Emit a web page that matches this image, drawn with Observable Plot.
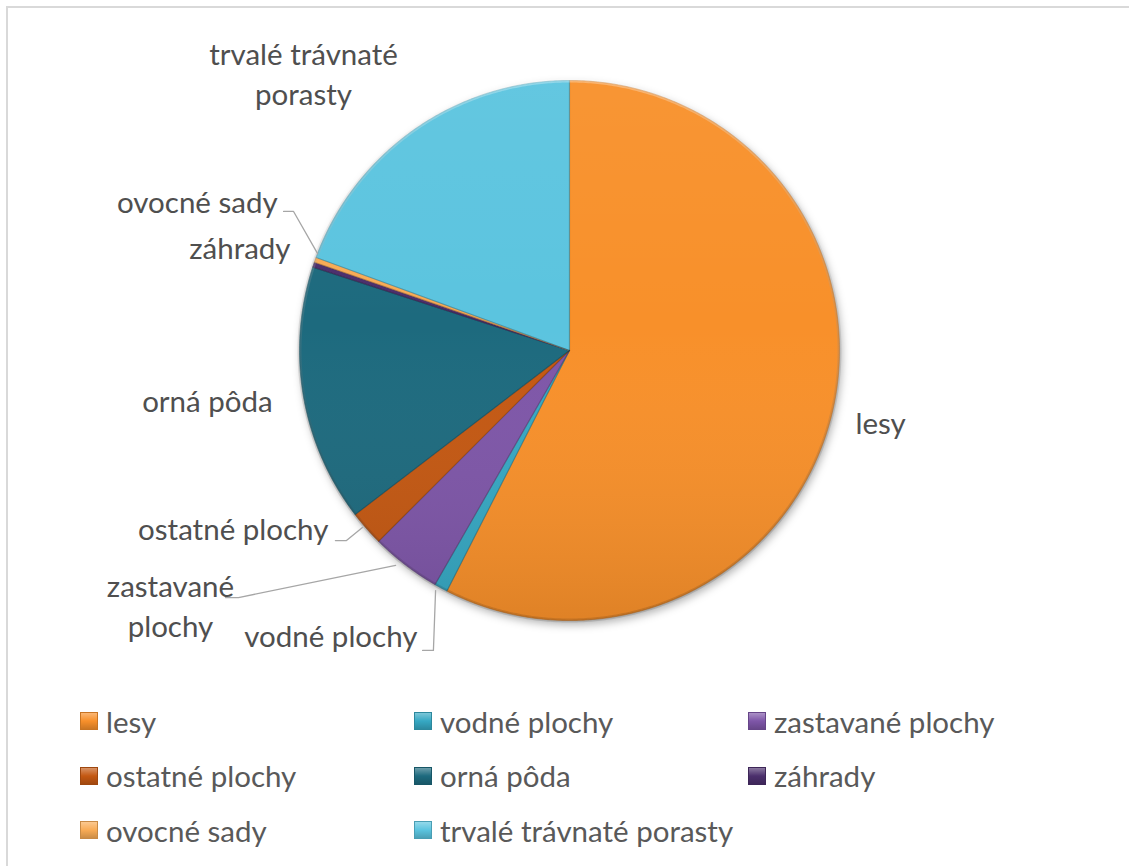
<!DOCTYPE html>
<html>
<head>
<meta charset="utf-8">
<script src="https://cdn.jsdelivr.net/npm/d3@7"></script>
<script src="https://cdn.jsdelivr.net/npm/@observablehq/plot@0.6"></script>
<style>
  html, body { margin: 0; padding: 0; background: #fff; }
  #wrap { position: relative; width: 1129px; height: 866px; overflow: hidden; font-family: Lato, "Open Sans", sans-serif; }
  #frame { position: absolute; left: 6px; top: 6px; width: 1140px; height: 880px; border: 2px solid #d9d9d9; box-sizing: border-box; pointer-events: none; }
  #chart { position: absolute; left: 0; top: 0; }
  #legend { position: absolute; left: 80px; top: 694px; display: grid; grid-template-columns: 334px 334px 334px; grid-auto-rows: 54.5px; }
  .item { display: flex; align-items: center; font-size: 29.5px; color: #595959; white-space: nowrap; }
  .sw { width: 18px; height: 18px; margin-right: 8px; box-sizing: border-box; position: relative; }
  .sw::after { content: ""; position: absolute; inset: 0; background: linear-gradient(to bottom, rgba(255,255,255,0.35), rgba(255,255,255,0) 50%, rgba(0,0,0,0.18)); }
</style>
</head>
<body>
<div id="wrap">
  <div id="chart"></div>
  <div id="legend"></div>
  <div id="frame"></div>
</div>
<script>
// ---- data ----
const categories = ["lesy", "vodné plochy", "zastavané plochy", "ostatné plochy", "orná pôda", "záhrady", "ovocné sady", "trvalé trávnaté porasty"];
const shares = [57.5, 0.8, 4.2, 2.1, 15.4, 0.3, 0.3, 19.4];
const colors = ["#F8902A", "#36A8C3", "#7E56A8", "#C45812", "#1D6A7E", "#4B2F6C", "#F8AB55", "#5BC4DF"];

// ---- label layout (unit = pie radius, y up) ----
const labelLayout = {
  "lesy": {lines: [[1.152, -0.274]], anchor: "middle"},
  "vodné plochy": {lines: [[-0.563, -1.063]], anchor: "end", leader: [[-0.496, -0.889], [-0.504, -1.111], [-0.544, -1.111]]},
  "zastavané plochy": {text: ["zastavané", "plochy"], lines: [[-1.478, -0.878], [-1.478, -1.026]], anchor: "middle", leader: [[-1.274, -0.915], [-1.226, -0.915], [-0.644, -0.796]]},
  "ostatné plochy": {lines: [[-0.893, -0.667]], anchor: "end", leader: [[-0.867, -0.704], [-0.826, -0.704], [-0.767, -0.656]]},
  "orná pôda": {lines: [[-1.341, -0.193]], anchor: "middle"},
  "záhrady": {lines: [[-1.033, 0.374]], anchor: "end"},
  "ovocné sady": {lines: [[-1.081, 0.544]], anchor: "end", leader: [[-1.059, 0.515], [-1.022, 0.515], [-0.933, 0.359]]},
  "trvalé trávnaté porasty": {text: ["trvalé trávnaté", "porasty"], lines: [[-0.985, 1.093], [-0.985, 0.944]], anchor: "middle"}
};

// ---- build geometry ----
const pie = d3.pie().sort(null).value(d => d.v)(categories.map((c, i) => ({c, v: shares[i]})));
const slicePts = [];
for (const a of pie) {
  const c = a.data.c;
  slicePts.push({c, x: 0, y: 0});
  const n = Math.max(2, Math.ceil((a.endAngle - a.startAngle) / (Math.PI / 360)));
  for (let k = 0; k <= n; k++) {
    const t = a.startAngle + (a.endAngle - a.startAngle) * k / n;
    slicePts.push({c, x: Math.sin(t), y: Math.cos(t)});
  }
  slicePts.push({c, x: 0, y: 0});
}
const circlePts = d3.range(0, 721).map(k => ({x: Math.sin(k * Math.PI / 360), y: Math.cos(k * Math.PI / 360)}));

const labelRows = [];
const leaderPts = [];
for (const c of categories) {
  const L = labelLayout[c];
  const texts = L.text || [c];
  texts.forEach((t, i) => labelRows.push({t, x: L.lines[i][0], y: L.lines[i][1], anchor: L.anchor}));
  if (L.leader) L.leader.forEach(p => leaderPts.push({c, x: p[0], y: p[1]}));
}

const W = 1129, H = 680;
const plot = Plot.plot({
  width: W, height: H,
  marginLeft: 299, marginRight: 290, marginTop: 80, marginBottom: 60,
  x: {domain: [-1, 1], axis: null},
  y: {domain: [-1, 1], axis: null},
  color: {domain: categories, range: colors, type: "ordinal"},
  style: {fontFamily: "Lato, 'Open Sans', sans-serif", overflow: "visible"},
  marks: [
    Plot.line(slicePts, {x: "x", y: "y", z: "c", fill: "c", stroke: "c", strokeWidth: 0.5, className: "slices"}),
    Plot.line(slicePts, {x: "x", y: "y", z: "c", fill: "none", stroke: "#000", strokeOpacity: 0.12, strokeWidth: 1.2}),
    Plot.line(circlePts, {x: "x", y: "y", fill: "url(#shade)", stroke: "url(#rim)", strokeWidth: 4}),
    Plot.line(leaderPts, {x: "x", y: "y", z: "c", stroke: "#a6a6a6", strokeWidth: 1.3}),
    Plot.text(labelRows.filter(d => d.anchor === "middle"), {x: "x", y: "y", text: "t", textAnchor: "middle", fontSize: 29.5, fill: "#4f4f4f"}),
    Plot.text(labelRows.filter(d => d.anchor === "end"), {x: "x", y: "y", text: "t", textAnchor: "end", fontSize: 29.5, fill: "#4f4f4f"})
  ]
});

// gradients for the shaded look
const svg = d3.select(plot);
const defs = svg.insert("defs", ":first-child");
const g1 = defs.append("linearGradient").attr("id", "shade").attr("x1", 0).attr("y1", 0).attr("x2", 0).attr("y2", 1);
g1.append("stop").attr("offset", "0%").attr("stop-color", "#fff").attr("stop-opacity", 0.05);
g1.append("stop").attr("offset", "45%").attr("stop-color", "#fff").attr("stop-opacity", 0);
g1.append("stop").attr("offset", "100%").attr("stop-color", "#000").attr("stop-opacity", 0.1);
const g2 = defs.append("linearGradient").attr("id", "rim").attr("x1", 0).attr("y1", 0).attr("x2", 0).attr("y2", 1);
g2.append("stop").attr("offset", "0%").attr("stop-color", "#fff").attr("stop-opacity", 0.3);
g2.append("stop").attr("offset", "100%").attr("stop-color", "#000").attr("stop-opacity", 0.12);
svg.select(".slices").style("filter", "drop-shadow(2px 4px 4px rgba(0,0,0,0.3))");

document.getElementById("chart").appendChild(plot);

// legend
const leg = document.getElementById("legend");
categories.forEach((c, i) => {
  const it = document.createElement("div");
  it.className = "item";
  const sw = document.createElement("span");
  sw.className = "sw";
  sw.style.background = colors[i];
  sw.style.border = "1px solid " + d3.color(colors[i]).darker(0.6);
  it.appendChild(sw);
  const tx = document.createElement("span");
  tx.textContent = c;
  it.appendChild(tx);
  leg.appendChild(it);
});
</script>
</body>
</html>
